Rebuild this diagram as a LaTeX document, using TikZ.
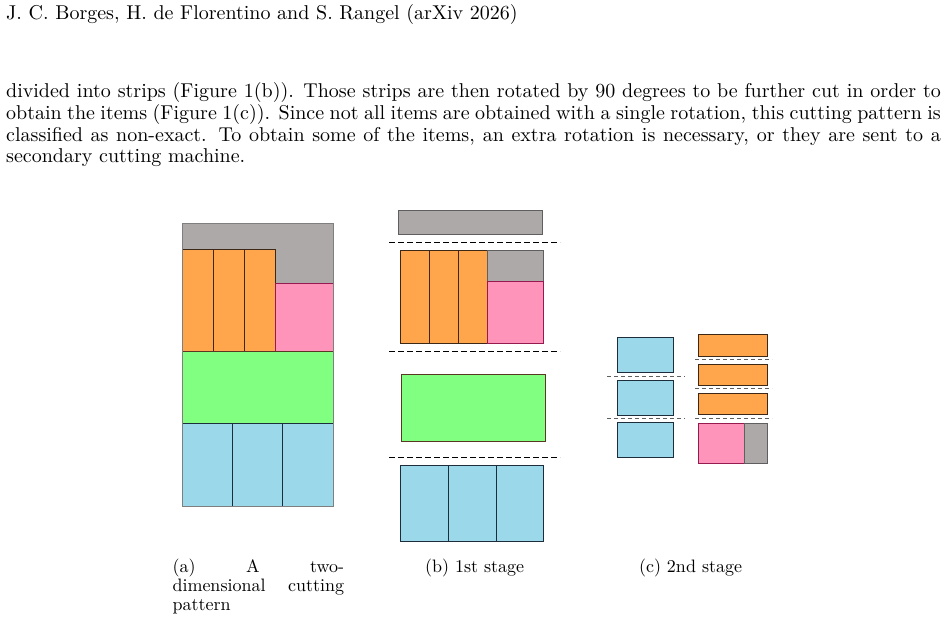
\documentclass[tikz,border=0pt]{standalone}
\definecolor{cgray}{RGB}{173,169,169}
\definecolor{corange}{RGB}{255,166,77}
\definecolor{cpink}{RGB}{255,148,186}
\definecolor{cgreen}{RGB}{128,255,128}
\definecolor{cblue}{RGB}{155,216,233}
\definecolor{dgray}{RGB}{95,95,95}
\definecolor{dorange}{RGB}{60,40,20}
\definecolor{dpink}{RGB}{150,25,80}
\definecolor{dgreen}{RGB}{90,55,35}
\definecolor{dblue}{RGB}{30,45,60}
\begin{document}
\begin{tikzpicture}[x=1pt,y=-1pt,
  basetxt/.style={anchor=base west,inner sep=0pt,outer sep=0pt,font=\fontsize{10}{12}\selectfont},
  txt/.style={basetxt,scale=1.8},
  body/.style={basetxt,scale=2.0},
  graybox/.style={fill=cgray,draw=dgray,line width=0.9pt},
  orangebox/.style={fill=corange,draw=dorange,line width=0.9pt},
  pinkbox/.style={fill=cpink,draw=dpink,line width=0.9pt},
  greenbox/.style={fill=cgreen,draw=dgreen,line width=0.9pt},
  bluebox/.style={fill=cblue,draw=dblue,line width=0.9pt},
  cutb/.style={draw=black,line width=1pt,dash pattern=on 5.5pt off 3.5pt},
  cutc/.style={draw=dgray,line width=0.9pt,dash pattern=on 4pt off 3pt}]
\useasboundingbox (0,0) rectangle (948,619);
\fill[white] (0,0) rectangle (948,619);

% header and body text
\node[body] (hdr) at (6.2,19.5) {J. C. Borges, H. de Florentino and S. Rangel (arXiv 2026)};
\node[body] (l1) at (6.2,97.5) {\makebox[467.3pt][s]{divided into strips (Figure 1(b)). Those strips are then rotated by 90 degrees to be further cut in order to}};
\node[body] (l2) at (6.2,119.2) {\makebox[467.3pt][s]{obtain the items (Figure 1(c)). Since not all items are obtained with a single rotation, this cutting pattern is}};
\node[body] (l3) at (6.2,141) {\makebox[467.3pt][s]{classified as non-exact. To obtain some of the items, an extra rotation is necessary, or they are sent to a}};
\node[body] (l4) at (6.2,162.7) {secondary cutting machine.};

% (a) cutting pattern
\fill[cgray] (182.3,223.3) rectangle (333,506.5);
\draw[orangebox] (182.3,249) rectangle (213.3,351);
\draw[orangebox] (213.3,249) rectangle (244,351);
\draw[orangebox] (244,249) rectangle (275,351);
\draw[pinkbox] (275,283.3) rectangle (333,351);
\draw[greenbox] (182.3,351) rectangle (333,423.5);
\draw[bluebox] (182.3,423.5) rectangle (232.7,506.5);
\draw[bluebox] (232.7,423.5) rectangle (282.7,506.5);
\draw[bluebox] (282.7,423.5) rectangle (333,506.5);
\draw[dgray!80,line width=0.9pt] (182.3,223.3) rectangle (333,506.5);

% (b) first stage
\draw[graybox] (398.7,210) rectangle (542.7,234.7);
\draw[cutb] (389,242.3) -- (560,242.3);
\draw[orangebox] (400,250) rectangle (429.3,343.3);
\draw[orangebox] (429.3,250) rectangle (458.7,343.3);
\draw[orangebox] (458.7,250) rectangle (487.7,343.3);
\draw[graybox] (487.7,250) rectangle (543,281.3);
\draw[pinkbox] (487.7,281.3) rectangle (543,343.3);
\draw[cutb] (389,351.7) -- (560,351.7);
\draw[greenbox] (401.3,374) rectangle (545,441.7);
\draw[cutb] (389,457.7) -- (560,457.7);
\draw[bluebox] (400,465.7) rectangle (448,541.7);
\draw[bluebox] (448,465.7) rectangle (496,541.7);
\draw[bluebox] (496,465.7) rectangle (543.7,541.7);

% (c) second stage
\draw[bluebox] (617.3,337.7) rectangle (673.7,372.7);
\draw[cutc] (607.3,376) -- (685,376);
\draw[bluebox] (617.3,380.3) rectangle (673.7,415);
\draw[cutc] (607.3,418.7) -- (685,418.7);
\draw[bluebox] (617.3,422.3) rectangle (673.7,457.7);

\draw[orangebox] (698,334.3) rectangle (767,356);
\draw[cutc] (695,359.3) -- (772,359.3);
\draw[orangebox] (698,364) rectangle (767,385.7);
\draw[cutc] (695,388.7) -- (772,388.7);
\draw[orangebox] (698,393) rectangle (767,414.3);
\draw[cutc] (695,418.3) -- (772,418.3);
\draw[pinkbox] (698,423) rectangle (744.3,463.3);
\draw[graybox] (744.3,423) rectangle (767,463.3);

% captions
\node[txt] (capa1) at (172.5,572) {\makebox[95.3pt][s]{(a) A two-}};
\node[txt] (capa2) at (172.5,591) {\makebox[95.3pt][s]{dimensional cutting}};
\node[txt] (capa3) at (172.5,610) {pattern};
\node[txt] (capb) at (425,572) {(b) 1st stage};
\node[txt] (capc) at (639,572) {(c) 2nd stage};
\end{tikzpicture}
\end{document}
